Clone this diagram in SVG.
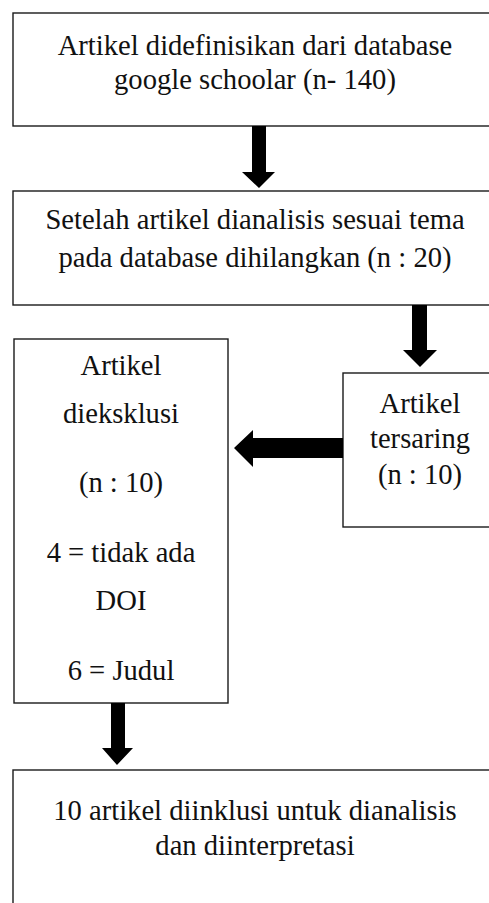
<svg xmlns="http://www.w3.org/2000/svg" width="489" height="903" viewBox="0 0 489 903">
<style>
.box{fill:#fff;stroke:#1a1a1a;stroke-width:1.4}
.t{font-size:28.6px;fill:#111;text-anchor:middle}
.arr{fill:#000}
</style>
<rect x="0" y="0" width="489" height="903" fill="#fff"/>
<g font-family="Liberation Serif, DejaVu Serif, serif">
<g id="node1">
<rect class="box" x="13" y="13" width="484" height="113"/>
<text class="t" x="255" y="55">Artikel didefinisikan dari database</text>
<text class="t" x="255" y="89">google schoolar (n- 140)</text>
</g>
<g id="node2">
<rect class="box" x="13" y="191" width="484" height="114"/>
<text class="t" x="255" y="229">Setelah artikel dianalisis sesuai tema</text>
<text class="t" x="255" y="267">pada database dihilangkan (n : 20)</text>
</g>
<g id="node3">
<rect class="box" x="14" y="339" width="214" height="364"/>
<text class="t" x="121" y="375">Artikel</text>
<text class="t" x="121" y="423">dieksklusi</text>
<text class="t" x="121" y="492">(n : 10)</text>
<text class="t" x="121" y="562">4 = tidak ada</text>
<text class="t" x="121" y="610">DOI</text>
<text class="t" x="121" y="680">6 = Judul</text>
</g>
<g id="node4">
<rect class="box" x="343" y="373" width="154" height="154"/>
<text class="t" x="420" y="413">Artikel</text>
<text class="t" x="420" y="448">tersaring</text>
<text class="t" x="420" y="484">(n : 10)</text>
</g>
<g id="node5">
<rect class="box" x="13" y="770" width="484" height="150"/>
<text class="t" x="255" y="820">10 artikel diinklusi untuk dianalisis</text>
<text class="t" x="255" y="855">dan diinterpretasi</text>
</g>
</g>
<g id="connectors">
<polygon class="arr" points="252,126 266,126 266,172 275,172 259,188 242,172 252,172"/>
<polygon class="arr" points="412,305 427,305 427,350 437,350 420,367 403,350 412,350"/>
<polygon class="arr" points="343,438 343,458 253,458 253,467 234,448 253,430 253,438"/>
<polygon class="arr" points="111,703 125,703 125,748 133,748 117,765 102,748 111,748"/>
</g>
</svg>
